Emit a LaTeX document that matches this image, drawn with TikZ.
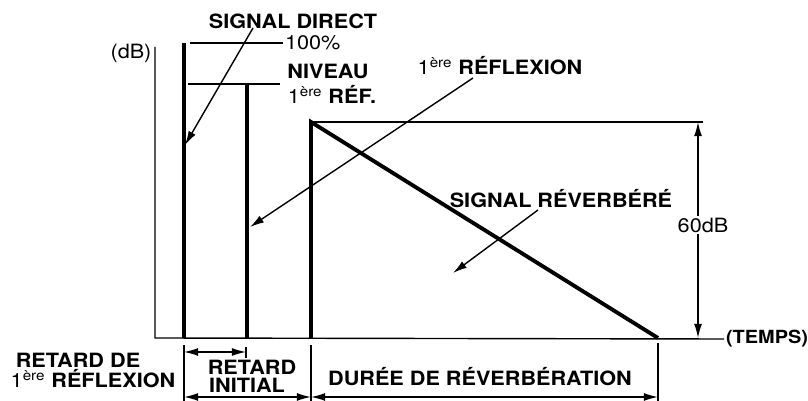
\documentclass[tikz,border=0pt]{standalone}
\usepackage{fontspec}
\setmainfont{TeX Gyre Heros}[FakeStretch=1.1]
\usetikzlibrary{arrows.meta}
\newcommand{\premiere}{{\mdseries 1\textsuperscript{ère}}}
\begin{document}
\begin{tikzpicture}[x=0.02cm,y=-0.02cm,
	axisline/.style={line width=0.8pt},
	pulse/.style={line width=2.2pt},
	ptr/.style={line width=0.8pt,-{Latex[length=8pt,width=4.5pt]}},
	dim/.style={line width=0.8pt,{Latex[length=8pt,width=4.5pt]}-{Latex[length=8pt,width=4.5pt]}},
	lbl/.style={font=\fontsize{11.2}{13}\selectfont\bfseries,inner sep=1pt},
	val/.style={font=\fontsize{11.2}{13}\selectfont,inner sep=1pt}]
	\useasboundingbox (0,0) rectangle (808,401);
	% labels
	\node[lbl] (sigdirect) at (293,21) {SIGNAL DIRECT};
	\node[val,anchor=west] (hundred) at (283,43) {100\%};
	\node[lbl] (niveau) at (328,71) {NIVEAU};
	\node[lbl] (refniv) at (332,94) {\premiere{} RÉF.};
	\node[lbl] (reflabel) at (500,66) {\premiere{} RÉFLEXION};
	\node[lbl] (reverb) at (561,199) {SIGNAL RÉVERBÉRÉ};
	\node[val] (db) at (131,53) {(dB)};
	\node[lbl,anchor=west,font=\fontsize{10.3}{12}\selectfont\bfseries] (temps) at (724,339) {(TEMPS)};
	\node[lbl] (retardde) at (78,360) {RETARD DE};
	\node[lbl] (reflex) at (93,379) {\premiere{} RÉFLEXION};
	\node[lbl] (retard) at (252,367) {RETARD};
	\node[lbl] (initial) at (247,385) {INITIAL};
	\node[lbl] (duree) at (480,377) {DURÉE DE RÉVERBÉRATION};
	% axes
	\coordinate (origin) at (155,338);
	\draw[axisline] (155,47) -- (origin) -- (temps.west);
	% pulses
	\draw[pulse] (184,43) -- (184,338);
	\draw[pulse] (247,84) -- (247,338);
	\draw[pulse] (311,338) -- (311,122) -- (658,338);
	\draw[axisline] (190,43) -- (hundred.west);
	\draw[axisline] (188,84) -- (280,84);
	\draw[axisline] (311,122) -- (703,122);
	% 60 dB
	\coordinate (dbtop) at (698,122);
	\coordinate (dbbot) at (698,338);
	\draw[dim] (dbbot) -- (dbtop);
	\node[val,fill=white] (sixty) at (703,225) {60dB};
	% pointers
	\coordinate (dirtail) at (253,28);
	\coordinate (dirtip) at (185,145);
	\coordinate (refltail) at (473,78);
	\coordinate (refltip) at (250,227);
	\coordinate (revtail) at (538,210);
	\coordinate (revtip) at (453,273);
	\draw[ptr] (dirtail) -- (dirtip);
	\draw[ptr] (refltail) -- (refltip);
	\draw[ptr] (revtail) -- (revtip);
	% dimensions
	\draw[axisline] (184,345) -- (184,401);
	\draw[axisline] (311,345) -- (311,401);
	\draw[axisline] (658,343) -- (658,401);
	\draw[axisline] (246,347) -- (246,358);
	\draw[dim] (184,352) -- (246,352);
	\draw[dim] (184,397) -- (311,397);
	\draw[dim] (311,397) -- (658,397);
\end{tikzpicture}
\end{document}
